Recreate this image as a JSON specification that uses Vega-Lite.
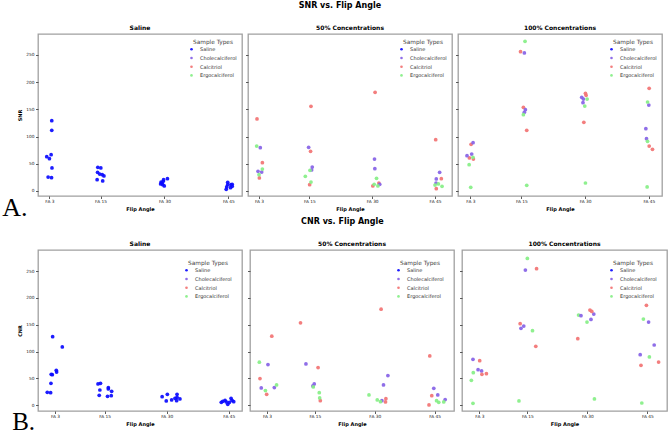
{
"$schema": "https://vega.github.io/schema/vega-lite/v6.json",
"padding": {"left": 2, "top": 2, "right": 2, "bottom": 0},
"background": "white",
"config": {
 "font": "DejaVu Sans",
 "view": {"stroke": "#a0a0a0", "strokeWidth": 1.3},
 "axis": {"grid": false, "domain": false, "tickColor": "#333333", "tickSize": 2.5, "tickWidth": 0.8, "labelFontSize": 4.3, "labelColor": "#222222", "titleFontSize": 5, "titleFontWeight": "bold", "titleColor": "#000000"},
 "axisX": {"labelPadding": 1, "titlePadding": 2.5},
 "axisY": {"labelPadding": 1.5, "titlePadding": 3},
 "title": {"fontSize": 6, "fontWeight": "bold", "offset": 3, "color": "#000000"},
 "legend": {"titleFontSize": 5.8, "titleFontWeight": "normal", "titleColor": "#444444", "labelFontSize": 5, "labelColor": "#333333", "symbolSize": 7, "symbolType": "circle", "rowPadding": 2.7, "titlePadding": 2, "padding": 0, "titleAnchor": "middle", "labelOffset": 6}
},
"datasets": {
 "snr_saline": [
  {"type":"Saline","angle":3.55,"value":129.3},{"type":"Saline","angle":3.55,"value":111.5},{"type":"Saline","angle":3.4,"value":66.8},{"type":"Saline","angle":2.37,"value":63.1},{"type":"Saline","angle":3.0,"value":59.4},{"type":"Saline","angle":3.6,"value":42.3},{"type":"Saline","angle":2.7,"value":25.7},{"type":"Saline","angle":3.5,"value":24.5},
  {"type":"Saline","angle":14.36,"value":43.5},{"type":"Saline","angle":15.07,"value":42.3},{"type":"Saline","angle":14.3,"value":34.3},{"type":"Saline","angle":14.8,"value":31.2},{"type":"Saline","angle":15.4,"value":30},{"type":"Saline","angle":15.8,"value":27.6},{"type":"Saline","angle":14.2,"value":20.8},{"type":"Saline","angle":15.5,"value":18.4},
  {"type":"Saline","angle":29.2,"value":16.5},{"type":"Saline","angle":29.8,"value":20.8},{"type":"Saline","angle":29.6,"value":11.6},{"type":"Saline","angle":29.1,"value":12.9},{"type":"Saline","angle":30.7,"value":22.7},{"type":"Saline","angle":29.96,"value":9.2},{"type":"Saline","angle":29.4,"value":14.7},{"type":"Saline","angle":29.7,"value":17.8},
  {"type":"Saline","angle":44.85,"value":15.9},{"type":"Saline","angle":44.6,"value":7.4},{"type":"Saline","angle":44.5,"value":3},{"type":"Saline","angle":45.6,"value":11.6},{"type":"Saline","angle":45.9,"value":8.6},{"type":"Saline","angle":45.5,"value":6.1},{"type":"Saline","angle":45.9,"value":12.3},{"type":"Saline","angle":44.85,"value":11.6}
 ],
 "snr_50": [
  {"type":"Calcitriol","angle":2.52,"value":132.4},{"type":"Calcitriol","angle":3.8,"value":52.1},{"type":"Calcitriol","angle":3.08,"value":23.9},{"type":"Calcitriol","angle":15.4,"value":155.6},{"type":"Calcitriol","angle":15.3,"value":72.9},{"type":"Calcitriol","angle":15.08,"value":11.6},{"type":"Calcitriol","angle":30.7,"value":181.4},{"type":"Calcitriol","angle":31.6,"value":14.7},{"type":"Calcitriol","angle":30.16,"value":9.2},{"type":"Calcitriol","angle":45.16,"value":94.4},{"type":"Calcitriol","angle":46.5,"value":22.7},{"type":"Calcitriol","angle":45.3,"value":4.3},
  {"type":"Cholecalciferol","angle":3.3,"value":79.7},{"type":"Cholecalciferol","angle":2.76,"value":36.2},{"type":"Cholecalciferol","angle":3.64,"value":34.9},{"type":"Cholecalciferol","angle":14.84,"value":80.3},{"type":"Cholecalciferol","angle":15.7,"value":44.1},{"type":"Cholecalciferol","angle":15.56,"value":38.6},{"type":"Cholecalciferol","angle":30.56,"value":58.8},{"type":"Cholecalciferol","angle":30.64,"value":41.1},{"type":"Cholecalciferol","angle":31.8,"value":12.3},{"type":"Cholecalciferol","angle":46.1,"value":34.3},{"type":"Cholecalciferol","angle":45.3,"value":22.1},{"type":"Cholecalciferol","angle":45.24,"value":14.7},
  {"type":"Ergocalciferol","angle":2.44,"value":82.7},{"type":"Ergocalciferol","angle":3.8,"value":40.4},{"type":"Ergocalciferol","angle":3.0,"value":30},{"type":"Ergocalciferol","angle":14.05,"value":27},{"type":"Ergocalciferol","angle":15.16,"value":38},{"type":"Ergocalciferol","angle":15.4,"value":16.5},{"type":"Ergocalciferol","angle":31.04,"value":23.3},{"type":"Ergocalciferol","angle":30.48,"value":12.3},{"type":"Ergocalciferol","angle":31.36,"value":9.2},{"type":"Ergocalciferol","angle":45.0,"value":11},{"type":"Ergocalciferol","angle":46.67,"value":8.6},{"type":"Ergocalciferol","angle":45.8,"value":12.9}
 ],
 "snr_100": [
  {"type":"Calcitriol","angle":3.16,"value":85.8},{"type":"Calcitriol","angle":2.76,"value":60.7},{"type":"Calcitriol","angle":3.7,"value":58.8},{"type":"Calcitriol","angle":14.8,"value":256},{"type":"Calcitriol","angle":15.47,"value":153.8},{"type":"Calcitriol","angle":16.26,"value":111.5},{"type":"Calcitriol","angle":30.08,"value":179.5},{"type":"Calcitriol","angle":30.24,"value":175.9},{"type":"Calcitriol","angle":29.7,"value":126.2},{"type":"Calcitriol","angle":45.08,"value":188.7},{"type":"Calcitriol","angle":45.08,"value":82.7},{"type":"Calcitriol","angle":45.86,"value":76.6},
  {"type":"Cholecalciferol","angle":3.63,"value":88.8},{"type":"Cholecalciferol","angle":2.2,"value":64.9},{"type":"Cholecalciferol","angle":3.3,"value":68},{"type":"Cholecalciferol","angle":15.7,"value":253.7},{"type":"Cholecalciferol","angle":15.94,"value":149.5},{"type":"Cholecalciferol","angle":15.7,"value":144.6},{"type":"Cholecalciferol","angle":29.2,"value":172.2},{"type":"Cholecalciferol","angle":29.6,"value":169.1},{"type":"Cholecalciferol","angle":29.5,"value":162.4},{"type":"Cholecalciferol","angle":45.0,"value":158},{"type":"Cholecalciferol","angle":44.3,"value":114.6},{"type":"Cholecalciferol","angle":44.45,"value":96.2},
  {"type":"Ergocalciferol","angle":2.7,"value":48.4},{"type":"Ergocalciferol","angle":3.6,"value":61.9},{"type":"Ergocalciferol","angle":3.08,"value":6.7},{"type":"Ergocalciferol","angle":15.86,"value":275.1},{"type":"Ergocalciferol","angle":15.47,"value":140.3},{"type":"Ergocalciferol","angle":16.26,"value":10.4},{"type":"Ergocalciferol","angle":30.47,"value":169.1},{"type":"Ergocalciferol","angle":29.92,"value":156.2},{"type":"Ergocalciferol","angle":30.08,"value":14.7},{"type":"Ergocalciferol","angle":44.7,"value":163.6},{"type":"Ergocalciferol","angle":44.7,"value":91.3},{"type":"Ergocalciferol","angle":44.6,"value":7.4}
 ],
 "cnr_saline": [
  {"type":"Saline","angle":2.44,"value":127.8},{"type":"Saline","angle":4.77,"value":108.6},{"type":"Saline","angle":3.32,"value":65.1},{"type":"Saline","angle":3.4,"value":62},{"type":"Saline","angle":2.1,"value":57.7},{"type":"Saline","angle":2.36,"value":57.1},{"type":"Saline","angle":2.03,"value":40.9},{"type":"Saline","angle":1.15,"value":24.2},{"type":"Saline","angle":1.95,"value":23.6},
  {"type":"Saline","angle":13.4,"value":39.7},{"type":"Saline","angle":14.0,"value":40.9},{"type":"Saline","angle":13.85,"value":28.5},{"type":"Saline","angle":15.9,"value":32.9},{"type":"Saline","angle":15.9,"value":30.4},{"type":"Saline","angle":16.7,"value":26.1},{"type":"Saline","angle":13.7,"value":18.6},{"type":"Saline","angle":15.7,"value":16.7},{"type":"Saline","angle":16.6,"value":18},
  {"type":"Saline","angle":28.9,"value":16.1},{"type":"Saline","angle":30.16,"value":20.5},{"type":"Saline","angle":29.9,"value":8.1},{"type":"Saline","angle":31.2,"value":9.9},{"type":"Saline","angle":32.5,"value":20.5},{"type":"Saline","angle":32.5,"value":14.9},{"type":"Saline","angle":33.2,"value":11.8},{"type":"Saline","angle":32.4,"value":8.7},{"type":"Saline","angle":32.0,"value":13},
  {"type":"Saline","angle":43.2,"value":5.6},{"type":"Saline","angle":43.55,"value":7.4},{"type":"Saline","angle":44.1,"value":9.3},{"type":"Saline","angle":44.76,"value":1.9},{"type":"Saline","angle":45.56,"value":13},{"type":"Saline","angle":46.2,"value":6.8},{"type":"Saline","angle":45.16,"value":5.6},{"type":"Saline","angle":45.8,"value":9.3},{"type":"Saline","angle":44.4,"value":6.2}
 ],
 "cnr_50": [
  {"type":"Calcitriol","angle":4.2,"value":128.7},{"type":"Calcitriol","angle":1.24,"value":49.8},{"type":"Calcitriol","angle":2.92,"value":20.5},{"type":"Calcitriol","angle":11.4,"value":153.6},{"type":"Calcitriol","angle":15.8,"value":70.3},{"type":"Calcitriol","angle":16.36,"value":8.7},{"type":"Calcitriol","angle":31.6,"value":179.1},{"type":"Calcitriol","angle":32.8,"value":12.4},{"type":"Calcitriol","angle":32.7,"value":6.2},{"type":"Calcitriol","angle":43.8,"value":92},{"type":"Calcitriol","angle":44.3,"value":18},{"type":"Calcitriol","angle":43.6,"value":0.6},
  {"type":"Cholecalciferol","angle":3.24,"value":75.9},{"type":"Cholecalciferol","angle":1.56,"value":32.3},{"type":"Cholecalciferol","angle":4.84,"value":33},{"type":"Cholecalciferol","angle":12.76,"value":77.1},{"type":"Cholecalciferol","angle":14.84,"value":39.8},{"type":"Cholecalciferol","angle":14.5,"value":36.1},{"type":"Cholecalciferol","angle":33.3,"value":55.3},{"type":"Cholecalciferol","angle":32.2,"value":37.9},{"type":"Cholecalciferol","angle":31.8,"value":8.7},{"type":"Cholecalciferol","angle":44.8,"value":31.7},{"type":"Cholecalciferol","angle":45.8,"value":19.3},{"type":"Cholecalciferol","angle":47.66,"value":10.6},
  {"type":"Ergocalciferol","angle":1.08,"value":80.2},{"type":"Ergocalciferol","angle":2.6,"value":27.4},{"type":"Ergocalciferol","angle":5.4,"value":37.9},{"type":"Ergocalciferol","angle":16.1,"value":23.6},{"type":"Ergocalciferol","angle":16.2,"value":13.7},{"type":"Ergocalciferol","angle":14.6,"value":34.2},{"type":"Ergocalciferol","angle":28.56,"value":19.3},{"type":"Ergocalciferol","angle":30.64,"value":10},{"type":"Ergocalciferol","angle":31.44,"value":6.8},{"type":"Ergocalciferol","angle":46.04,"value":5.6},{"type":"Ergocalciferol","angle":47.3,"value":6.2},{"type":"Ergocalciferol","angle":45.5,"value":8.7}
 ],
 "cnr_100": [
  {"type":"Ergocalciferol","angle":15.0,"value":273.6},{"type":"Ergocalciferol","angle":1.48,"value":60.8},{"type":"Ergocalciferol","angle":1.0,"value":46.5},{"type":"Ergocalciferol","angle":1.4,"value":3.7},{"type":"Ergocalciferol","angle":16.28,"value":139},{"type":"Ergocalciferol","angle":12.9,"value":8.1},{"type":"Ergocalciferol","angle":27.8,"value":168.1},{"type":"Ergocalciferol","angle":29.9,"value":155.1},{"type":"Ergocalciferol","angle":31.76,"value":11.8},{"type":"Ergocalciferol","angle":44.0,"value":160.7},{"type":"Ergocalciferol","angle":45.5,"value":90},{"type":"Ergocalciferol","angle":43.6,"value":4.3},
  {"type":"Cholecalciferol","angle":1.4,"value":85.6},{"type":"Cholecalciferol","angle":2.68,"value":66.4},{"type":"Cholecalciferol","angle":3.56,"value":63.9},{"type":"Cholecalciferol","angle":14.5,"value":251.9},{"type":"Cholecalciferol","angle":14.1,"value":147.6},{"type":"Cholecalciferol","angle":13.4,"value":143.3},{"type":"Cholecalciferol","angle":28.4,"value":166.9},{"type":"Cholecalciferol","angle":30.9,"value":160},{"type":"Cholecalciferol","angle":31.6,"value":170},{"type":"Cholecalciferol","angle":45.3,"value":155.1},{"type":"Cholecalciferol","angle":46.7,"value":112.3},{"type":"Cholecalciferol","angle":43.2,"value":94.3},
  {"type":"Calcitriol","angle":3.08,"value":83.1},{"type":"Calcitriol","angle":3.64,"value":57.7},{"type":"Calcitriol","angle":4.76,"value":58.9},{"type":"Calcitriol","angle":17.3,"value":254.3},{"type":"Calcitriol","angle":13.2,"value":152},{"type":"Calcitriol","angle":17.1,"value":109.8},{"type":"Calcitriol","angle":30.64,"value":177.4},{"type":"Calcitriol","angle":31.1,"value":174.9},{"type":"Calcitriol","angle":27.6,"value":124.1},{"type":"Calcitriol","angle":44.76,"value":186.1},{"type":"Calcitriol","angle":47.8,"value":80.6},{"type":"Calcitriol","angle":43.4,"value":74.4}
 ]
},
"spacing": -3,
"resolve": {"scale": {"color": "independent"}, "legend": {"color": "independent"}},
"vconcat": [
 {
  "title": {"text": "A.", "orient": "bottom", "anchor": "start", "font": "Liberation Serif", "fontSize": 26, "fontWeight": "normal", "offset": -17, "dx": -15},
  "resolve": {"scale": {"color": "independent"}, "legend": {"color": "independent"}},
  "vconcat": [
   {
    "title": {"text": "SNR vs. Flip Angle", "fontSize": 8, "anchor": "middle", "offset": 14},
    "spacing": 1,
    "resolve": {"scale": {"color": "independent"}, "legend": {"color": "independent"}},
    "hconcat": [
     {
      "title": "Saline", "width": 204, "height": 162,
      "data": {"name": "snr_saline"},
      "mark": {"type": "circle", "size": 14, "opacity": 0.92},
      "encoding": {
       "x": {"field": "angle", "type": "quantitative", "scale": {"domain": [0.32, 48.2], "nice": false, "zero": false}, "axis": {"values": [3, 15, 30, 45], "labelExpr": "'FA ' + datum.value", "title": "Flip Angle"}},
       "y": {"field": "value", "type": "quantitative", "scale": {"domain": [-9.2, 288.6], "nice": false, "zero": false}, "axis": {"values": [0, 50, 100, 150, 200, 250], "title": "SNR"}},
       "color": {"field": "type", "type": "nominal", "scale": {"domain": ["Saline", "Cholecalciferol", "Calcitriol", "Ergocalciferol"], "range": ["#0a0aff", "#8562e6", "#f27373", "#85ef85"]}, "legend": {"title": "Sample Types", "orient": "top-right", "offset": 5}}
      }
     },
     {
      "title": "50% Concentrations", "width": 204, "height": 162,
      "data": {"name": "snr_50"},
      "mark": {"type": "circle", "size": 14, "opacity": 0.92},
      "encoding": {
       "x": {"field": "angle", "type": "quantitative", "scale": {"domain": [0.37, 49.05], "nice": false, "zero": false}, "axis": {"values": [3, 15, 30, 45], "labelExpr": "'FA ' + datum.value", "title": "Flip Angle"}},
       "y": {"field": "value", "type": "quantitative", "scale": {"domain": [-9.2, 288.6], "nice": false, "zero": false}, "axis": {"values": [0, 50, 100, 150, 200, 250], "labels": false, "title": null}},
       "color": {"field": "type", "type": "nominal", "scale": {"domain": ["Saline", "Cholecalciferol", "Calcitriol", "Ergocalciferol"], "range": ["#0a0aff", "#8562e6", "#f27373", "#85ef85"]}, "legend": {"title": "Sample Types", "orient": "top-right", "offset": 5}}
      }
     },
     {
      "title": "100% Concentrations", "width": 204, "height": 162,
      "data": {"name": "snr_100"},
      "mark": {"type": "circle", "size": 14, "opacity": 0.92},
      "encoding": {
       "x": {"field": "angle", "type": "quantitative", "scale": {"domain": [0.08, 48.1], "nice": false, "zero": false}, "axis": {"values": [3, 15, 30, 45], "labelExpr": "'FA ' + datum.value", "title": "Flip Angle"}},
       "y": {"field": "value", "type": "quantitative", "scale": {"domain": [-9.2, 288.6], "nice": false, "zero": false}, "axis": {"values": [0, 50, 100, 150, 200, 250], "labels": false, "title": null}},
       "color": {"field": "type", "type": "nominal", "scale": {"domain": ["Saline", "Cholecalciferol", "Calcitriol", "Ergocalciferol"], "range": ["#0a0aff", "#8562e6", "#f27373", "#85ef85"]}, "legend": {"title": "Sample Types", "orient": "top-right", "offset": 5}}
      }
     }
    ]
   }
  ]
 },
 {
  "title": {"text": "B.", "orient": "bottom", "anchor": "start", "font": "Liberation Serif", "fontSize": 25, "fontWeight": "normal", "offset": -17, "dx": -5},
  "resolve": {"scale": {"color": "independent"}, "legend": {"color": "independent"}},
  "vconcat": [
   {
    "title": {"text": "CNR vs. Flip Angle", "fontSize": 8, "anchor": "middle", "offset": 14},
    "spacing": 3,
    "resolve": {"scale": {"color": "independent"}, "legend": {"color": "independent"}},
    "hconcat": [
     {
      "title": "Saline", "width": 204, "height": 161,
      "data": {"name": "cnr_saline"},
      "mark": {"type": "circle", "size": 14, "opacity": 0.92},
      "encoding": {
       "x": {"field": "angle", "type": "quantitative", "scale": {"domain": [-1.1, 48.2], "nice": false, "zero": false}, "axis": {"values": [3, 15, 30, 45], "labelExpr": "'FA ' + datum.value", "title": "Flip Angle"}},
       "y": {"field": "value", "type": "quantitative", "scale": {"domain": [-10.6, 289.2], "nice": false, "zero": false}, "axis": {"values": [0, 50, 100, 150, 200, 250], "title": "CNR"}},
       "color": {"field": "type", "type": "nominal", "scale": {"domain": ["Saline", "Cholecalciferol", "Calcitriol", "Ergocalciferol"], "range": ["#0a0aff", "#8562e6", "#f27373", "#85ef85"]}, "legend": {"title": "Sample Types", "orient": "top-right", "offset": 10}}
      }
     },
     {
      "title": "50% Concentrations", "width": 204, "height": 161,
      "data": {"name": "cnr_50"},
      "mark": {"type": "circle", "size": 14, "opacity": 0.92},
      "encoding": {
       "x": {"field": "angle", "type": "quantitative", "scale": {"domain": [-1.26, 49.87], "nice": false, "zero": false}, "axis": {"values": [3, 15, 30, 45], "labelExpr": "'FA ' + datum.value", "title": "Flip Angle"}},
       "y": {"field": "value", "type": "quantitative", "scale": {"domain": [-10.6, 289.2], "nice": false, "zero": false}, "axis": {"values": [0, 50, 100, 150, 200, 250], "labels": false, "title": null}},
       "color": {"field": "type", "type": "nominal", "scale": {"domain": ["Saline", "Cholecalciferol", "Calcitriol", "Ergocalciferol"], "range": ["#0a0aff", "#8562e6", "#f27373", "#85ef85"]}, "legend": {"title": "Sample Types", "orient": "top-right", "offset": 10}}
      }
     },
     {
      "title": "100% Concentrations", "width": 205, "height": 161,
      "data": {"name": "cnr_100"},
      "mark": {"type": "circle", "size": 14, "opacity": 0.92},
      "encoding": {
       "x": {"field": "angle", "type": "quantitative", "scale": {"domain": [-1.34, 49.9], "nice": false, "zero": false}, "axis": {"values": [3, 15, 30, 45], "labelExpr": "'FA ' + datum.value", "title": "Flip Angle"}},
       "y": {"field": "value", "type": "quantitative", "scale": {"domain": [-10.6, 289.2], "nice": false, "zero": false}, "axis": {"values": [0, 50, 100, 150, 200, 250], "labels": false, "title": null}},
       "color": {"field": "type", "type": "nominal", "scale": {"domain": ["Saline", "Cholecalciferol", "Calcitriol", "Ergocalciferol"], "range": ["#0a0aff", "#8562e6", "#f27373", "#85ef85"]}, "legend": {"title": "Sample Types", "orient": "top-right", "offset": 10}}
      }
     }
    ]
   }
  ]
 }
]
}
